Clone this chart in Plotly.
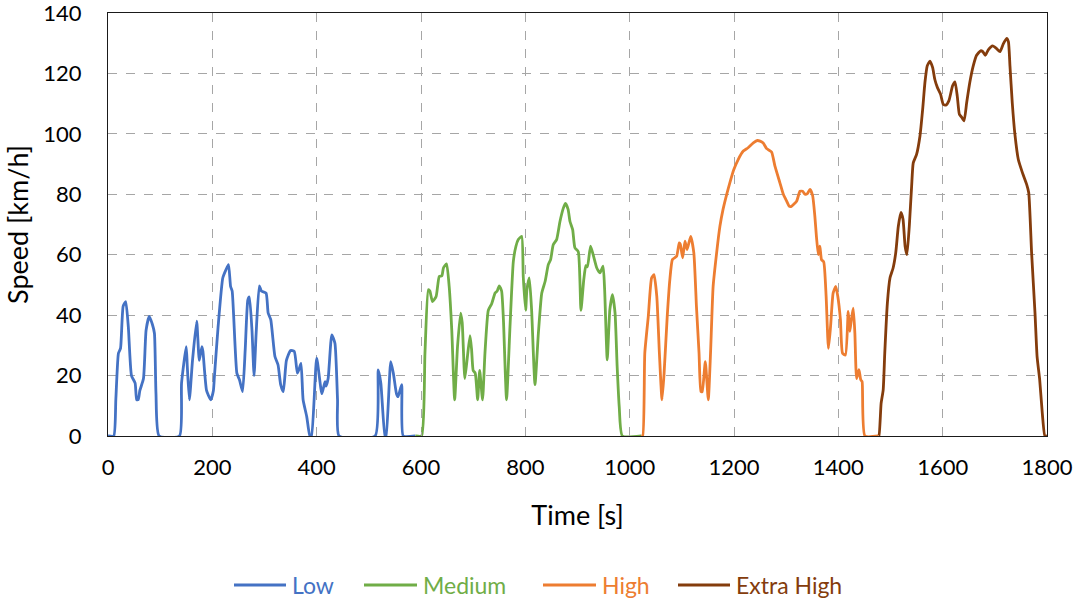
import plotly.graph_objects as go

# ---- data ----
low_t = [0, 11, 15, 20, 24, 29, 34, 39, 45, 52, 55, 58, 61, 68, 73, 79, 85, 89, 92, 98, 137, 141, 150, 152, 156,
         162, 170, 175, 180, 182, 189, 197, 202, 204, 211, 220, 226, 231, 235, 238, 247, 252, 258, 263, 268, 271,
         276, 280, 284, 290, 294, 303, 307, 312, 320, 326, 331, 336, 342, 350, 357, 363, 366, 370, 374, 381, 387,
         390, 400, 410, 416, 418, 422, 429, 435, 440, 443, 512, 518, 523, 531, 533, 542, 547, 553, 556, 563, 566, 589]
low_v = [0, 0, 12, 27.4, 29, 42.9, 44.5, 36, 20, 17.5, 12, 12, 15, 19, 35, 39.6, 37, 34, 14, 0, 0, 17.5, 29.6, 23, 12,
         25, 38, 25, 29.6, 28, 15, 12, 15, 19.7, 36, 52.3, 55, 56.7, 49.5, 48, 20.8, 18.6, 14.7, 28.5, 45, 46,
         35, 20, 34, 49.7, 48, 47.3, 40.7, 38.5, 26.3, 23.5, 17, 14.7, 25, 28.3, 28, 20.8, 22, 24, 12, 6.4, 0,
         0, 25.8, 14, 18, 16.5, 19, 33.5, 30.7, 12, 0, 0, 21.9, 17.5, 0, 0, 24.6, 20.8, 14, 13, 17, 0, 0]

med_t = [589, 601, 607.6, 614, 617, 622, 629, 635, 640, 643, 649, 654, 659, 664.5, 670, 676, 679, 684, 689, 694, 697,
         700, 704, 708.6, 712.5, 718, 722.6, 729, 735.5, 742, 746, 750, 754.5, 758, 764, 770.6, 777, 782, 786.5, 793,
         796, 800.6, 803, 807.6, 812, 818.5, 825, 831.5, 838, 844, 848.5, 853.5, 860, 866.4, 873, 877, 882, 885.6,
         890.7, 895, 901.5, 906.6, 912, 916, 919, 925, 930, 937, 943, 949, 952, 957, 962, 967, 972, 976, 980, 986, 1022]
med_v = [0, 0, 27.4, 48.4, 48, 44.5, 46.2, 52.8, 53, 55.6, 57, 49.5, 35, 12, 29.6, 40.7, 37.5, 19, 26.3, 33.2, 28.6,
         21.7, 20.8, 12, 21.7, 12, 27.4, 41.6, 43.8, 47.3, 48, 49.7, 48, 38.5, 12, 36.3, 57.8, 62.8, 65, 66.1,
         52.8, 41.6, 48.4, 52.3, 41.8, 17, 34, 47.3, 51.2, 56.7, 58.4, 63.3, 65, 71, 75.5, 77, 75, 71,
         68.3, 62.3, 61, 41.6, 51.7, 56.4, 56, 62.8, 60, 55.6, 54, 56.2, 48.5, 25.2, 41.8, 46.8, 40.7, 23, 9.7, 0, 0]

high_t = [1022, 1025, 1029, 1035.7, 1042, 1046.6, 1052, 1057, 1062, 1066, 1072, 1077, 1082, 1090, 1095, 1097, 1101.6,
          1106, 1110, 1117, 1123, 1128, 1133, 1136.6, 1139, 1145, 1150.7, 1155, 1160, 1166.7, 1173, 1179, 1186, 1192,
          1199.7, 1208, 1217.8, 1227, 1237, 1245, 1250, 1256, 1262.6, 1272, 1278.5, 1288, 1294.5, 1301, 1306, 1310,
          1320, 1326.5, 1331.6, 1336, 1340.6, 1345.6, 1350.7, 1355, 1358, 1361.6, 1364.6, 1367.7, 1372, 1376.6, 1381,
          1385, 1390, 1395, 1399, 1404, 1408, 1413.6, 1419, 1422, 1425, 1428.6, 1431.7, 1435, 1439.5, 1443, 1445.6,
          1451, 1477]
high_v = [0, 0, 27.4, 39.6, 52.3, 53.4, 46.2, 27.4, 12, 20.8, 39.6, 51.7, 58.4, 59.5, 63.9, 63.5, 59,
          64.5, 61.7, 66.1, 60.6, 42.9, 27.4, 14.7, 14.7, 24.6, 12, 27.4, 49.5, 60.6, 69.4, 75, 80, 83.8,
          88.2, 91.5, 94.3, 95.4, 97, 97.8, 97.6, 97, 95.1, 94, 89.3, 83.8, 80, 77.7, 76, 76,
          77.7, 81, 81, 80, 80.2, 81.6, 79.6, 72.7, 66.1, 60, 62.8, 58.4, 57.6, 46.2, 29,
          36, 47.3, 49.5, 46.2, 38.5, 27.4, 26.8, 41.2, 34.6, 38.5, 42.3, 34, 19, 22, 18.6, 18,
          0, 0]

xhigh_t = [1477, 1478, 1482, 1486, 1489, 1494, 1499, 1505, 1510, 1515, 1520, 1524, 1528, 1531.5, 1536, 1540.5, 1543.6,
           1550, 1556.5, 1561.6, 1566, 1570.4, 1575.6, 1580.7, 1585, 1590, 1596, 1601, 1606, 1612, 1619, 1623.6, 1628,
           1632, 1636, 1641, 1646, 1652, 1658.6, 1665, 1672.8, 1677, 1681.7, 1687.4, 1695.8, 1703.5, 1709.8, 1716,
           1722.6, 1726, 1729, 1733.4, 1738.5, 1745, 1753, 1761, 1765, 1770.5, 1777, 1781, 1786, 1791, 1796, 1800]
xhigh_v = [0, 0, 10.8, 15.3, 27.4, 44, 52.3, 55.6, 60.6, 69.4, 74, 71.7, 62.8, 60, 69.4, 82.7, 90.4,
           93.2, 99.3, 108, 117, 122.5, 124.1, 122, 118, 115.3, 113.1, 109.8, 109.5, 111, 115.9, 117.2, 112.5,
           106.5, 105.6, 104.3, 110.3, 117, 122.5, 126, 127.5, 127.2, 126, 127.8, 129.1, 128.2, 127.2, 129.7,
           131.6, 130.5, 122.5, 110.3, 99.8, 91.5, 87.1, 83.3, 80.5, 60.6, 40.7, 26.3, 18.6, 7.5, 0, 0]

names = ["Low", "Medium", "High", "Extra High"]
colors = ["#4472C4", "#70AD47", "#ED7D31", "#843C0C"]
times = [low_t, med_t, high_t, xhigh_t]
speeds = [low_v, med_v, high_v, xhigh_v]

x_ticks = [0, 200, 400, 600, 800, 1000, 1200, 1400, 1600, 1800]
y_ticks = [0, 20, 40, 60, 80, 100, 120, 140]

FONT = "Lato, 'Open Sans', sans-serif"

# page body margin is removed (see post_script), so the figure fills the window
W, H = 1081, 603
ML, MT = 108, 13
MR = W - 1047
MB = H - 436
PW, PH = W - ML - MR, H - MT - MB


def px_x(px):
    """window pixel -> paper x"""
    return (px - ML) / PW


def px_y(py):
    """window pixel -> paper y"""
    return (H - MB - py) / PH


fig = go.Figure()
for name, t, v, col in zip(names, times, speeds, colors):
    fig.add_trace(go.Scatter(
        x=t, y=v, mode="lines", name=name, showlegend=False,
        line=dict(color=col, width=2.8, shape="spline", smoothing=0.5),
    ))

# legend drawn below the chart (line sample + coloured label)
legend_line_x = [(234, 286), (364, 417), (543, 596), (678, 730)]
legend_y = 585
shapes = []
annotations = []
for (x0, x1), name, col in zip(legend_line_x, names, colors):
    shapes.append(dict(type="line", xref="paper", yref="paper",
                       x0=px_x(x0), x1=px_x(x1), y0=px_y(legend_y), y1=px_y(legend_y),
                       line=dict(color=col, width=2.8)))
    annotations.append(dict(xref="paper", yref="paper", x=px_x(x1 + 4), y=px_y(legend_y),
                            xanchor="left", yanchor="middle", showarrow=False, text=name,
                            font=dict(family=FONT, size=23, color=col)))

fig.update_layout(
    width=W, height=H,
    margin=dict(l=ML, r=MR, t=MT, b=MB, autoexpand=False),
    paper_bgcolor="white", plot_bgcolor="white",
    font=dict(family=FONT, size=22, color="#000000"),
    showlegend=False,
    shapes=shapes, annotations=annotations,
)
fig.update_xaxes(
    range=[0, 1800], tickvals=x_ticks, ticktext=[str(v) for v in x_ticks],
    showgrid=True, gridcolor="#A6A6A6", griddash="dash", gridwidth=1,
    showline=True, linecolor="#1a1a1a", linewidth=1.2, mirror=True,
    ticks="inside", ticklen=4, tickcolor="#A6A6A6",
    zeroline=False, automargin=False, ticklabelstandoff=11, ticklabeloverflow="allow",
    title=dict(text="Time [s]", font=dict(family=FONT, size=27), standoff=27),
    tickfont=dict(family=FONT, size=22),
)
fig.update_yaxes(
    range=[0, 140], tickvals=y_ticks, ticktext=[str(v) for v in y_ticks],
    showgrid=True, gridcolor="#A6A6A6", griddash="dash", gridwidth=1,
    showline=True, linecolor="#1a1a1a", linewidth=1.2, mirror=True,
    ticks="", zeroline=False, automargin=False, ticklabelstandoff=21, ticklabeloverflow="allow",
    title=dict(text="Speed [km/h]", font=dict(family=FONT, size=27), standoff=6),
    tickfont=dict(family=FONT, size=22),
)

fig.write_html("out.html",
               config={"displayModeBar": False},
               post_script="document.body.style.margin='0';document.body.style.overflow='hidden';")
